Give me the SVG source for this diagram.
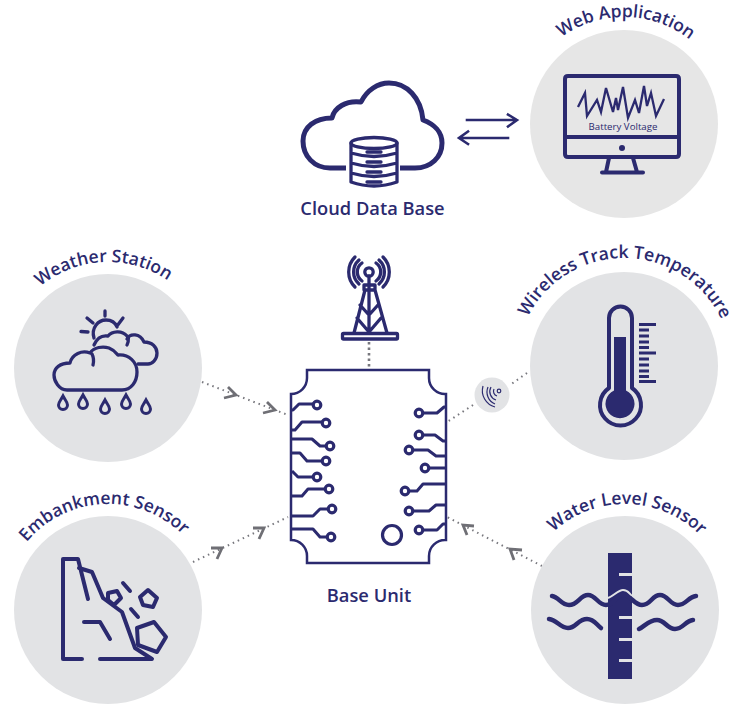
<svg xmlns="http://www.w3.org/2000/svg" xmlns:xlink="http://www.w3.org/1999/xlink" width="740" height="713" viewBox="0 0 740 713">
<style>
.bg{fill:#e2e3e5}
.s{fill:none;stroke:#2b2a6f;stroke-width:4;stroke-linecap:round;stroke-linejoin:round}
.t3{stroke-width:3.300}
.f{fill:#2b2a6f}
.lbl{font-family:"Open Sans","Liberation Sans",sans-serif;font-weight:600;font-size:18.300px;fill:#2b2a6f}
.cl{font-size:17.500px;text-anchor:middle}
.dots{fill:none;stroke:#77777d;stroke-width:2;stroke-dasharray:1.5 4}
.chev{fill:none;stroke:#6f6f75;stroke-width:2.800}
.tr{fill:none;stroke:#2b2a6f;stroke-width:3;stroke-linejoin:round}
.pad{fill:none;stroke:#2b2a6f;stroke-width:3.200}
</style>
<defs>
<path id="a1" d="M517 124A107 107 0 0 1 731 124"/>
<path id="a2" d="M2 368A106 106 0 0 1 214 368"/>
<path id="a3" d="M516 366A108 108 0 0 1 732 366"/>
<path id="a4" d="M2 610A106 106 0 0 1 214 610"/>
<path id="a5" d="M519 610A106 106 0 0 1 731 610"/>
<path id="drop" d="M0-7C-2-3-4.500-1-4.500 2A4.500 4.500 0 0 0 4.500 2C4.500-1 2-3 0-7Z" fill="none" stroke="#2b2a6f" stroke-width="3"/>
</defs>

<g id="connectors">
<path class="dots" style="stroke-width:2.600;stroke-dasharray:2.500 3" d="M369 342V368"/>
<path class="dots" d="M202 382L288 415"/>
<path class="dots" d="M193 562L288 517"/>
<path class="dots" d="M542 566L447 517"/>
<path class="dots" d="M527 373L510 385M473 405L447 422"/>
<path class="chev" d="M228 387L236 395L224 398M267 402L275 410L263 413"/>
<path class="chev" d="M211 548L222 548L217 559M253 528L264 528L259 539"/>
<path class="chev" d="M474 526L463 525L467 535M522 550L510 549L514 560"/>
<g fill="none" stroke="#2b2a6f" stroke-width="2.600" stroke-linecap="square">
<path d="M467 120H516M508 114.500L517 120L508 126.500"/>
<path d="M508 138H460M468 131.500L459 138L468 144"/>
</g>
</g>

<g id="cloud-data-base">
<path class="s" style="stroke-width:5;stroke-linecap:butt" d="M346 168H330C314 168 303 156 303 141C303 127 315 118 332 118C334 108 346 100 361 102C367 90 378 83 389 83C407 83 421 98 423 120C434 124 442 132 442 143C442 157 431 168 415 168H400"/>
<g class="s t3">
<ellipse cx="374" cy="143" rx="23" ry="5.500"/>
<path d="M351 143V182Q374 190 397 182V143M351 153Q374 160 397 153M351 163Q374 170 397 163M351 173Q374 180 397 173"/>
<path d="M367 152H381M367 162H381M367 172H381M367 182H381"/>
</g>
<text class="lbl" x="372.500" y="215" text-anchor="middle">Cloud Data Base</text>
</g>

<g id="web-application">
<circle fill="#e6e6e6" cx="624" cy="124" r="94"/>
<text class="lbl cl"><textPath href="#a1" xlink:href="#a1" startOffset="50.600%">Web Application</textPath></text>
<path class="s" d="M568 76H676Q679 76 679 79V154Q679 157 676 157H568Q565 157 565 154V79Q565 76 568 76ZM565 137H679M609 158L606 172M633 158L637 172M602 172.500H643"/>
<circle class="f" cx="622" cy="148" r="3"/>
<polyline fill="none" stroke="#2b2a6f" stroke-width="2.300" points="578,107 585,93 587,116 597,100 601,112 606,88 613,112 616,98 618,110 623,87 628,118 635,100 639,113 644,86 647,106 651,93 656,116 664,99"/>
<text x="623" y="130" text-anchor="middle" font-family="'Open Sans','Liberation Sans',sans-serif" font-size="9.700" fill="#2b2a6f">Battery Voltage</text>
</g>

<g id="weather-station">
<circle class="bg" cx="108" cy="368" r="94"/>
<text class="lbl cl"><textPath href="#a2" xlink:href="#a2" startOffset="48.500%">Weather Station</textPath></text>
<g class="s t3">
<path d="M94 338C91 328 98 320 106 320C111 320 115 322 117 327M105 311V316M87 318L93 323M123 318L117 326M81 331.500L88 332"/>
<path d="M94 345C97 338 102 335 108 336C112 331 122 330 127 336C129 337 129 340 127 345M127 339C130 333 140 333 144 342C152 342 157 347 157 353C157 360 152 364 148 364H138"/>
<path d="M67 390C59 390 54 381 54 375C54 368 60 363 70 363C72 354 82 350 90 353C94 347 103 346 109 348C114 350 116 353 118 355C129 354 137 362 137 372C137 382 131 390 122 390ZM92 354C94 358 94 361 93 365"/>
</g>
<use href="#drop" xlink:href="#drop" x="63" y="403"/>
<use href="#drop" xlink:href="#drop" x="83" y="402"/>
<use href="#drop" xlink:href="#drop" x="105" y="407"/>
<use href="#drop" xlink:href="#drop" x="126" y="402"/>
<use href="#drop" xlink:href="#drop" x="146" y="407"/>
</g>

<g id="embankment-sensor">
<circle class="bg" cx="108" cy="610" r="94"/>
<text class="lbl cl"><textPath href="#a4" xlink:href="#a4" startOffset="48.500%">Embankment Sensor</textPath></text>
<g class="s">
<path d="M82 659H63V559H78L88 599M79 568L92 572L103 598L122 612L135 648L152 659H100"/>
<path d="M84 622H100L110 639M123 583L130 591M131 609L138 617"/>
<path d="M108 593L117 591L121 598L114 605L108 600Z"/>
<path d="M148 590L157 598L153 607L143 605L140 597Z"/>
<path d="M154 622L166 637L157 652L138 645L137 628Z"/>
</g>
</g>

<g id="wireless-track-temperature">
<circle class="bg" cx="624" cy="366" r="94"/>
<text class="lbl cl" style="font-size:17.700px"><textPath href="#a3" xlink:href="#a3" startOffset="50.400%">Wireless Track Temperature</textPath></text>
<path class="s" d="M609 388V318A11.500 11.500 0 0 1 632 318V388A20.500 20.500 0 1 1 609 388Z"/>
<path class="f" d="M614 337H626V390.500A14.500 14.500 0 1 1 614 390.500Z"/>
<path fill="none" stroke="#2b2a6f" stroke-width="3" d="M639 324.500H656M639 330H649M639 336H649M639 342H649M639 347.500H649M639 353H656M639 359H649M639 365H649M639 371H649M639 376.500H649M639 381.500H656"/>
</g>

<g id="wireless-icon">
<circle class="bg" cx="492" cy="395" r="17.500"/>
<circle cx="499" cy="391" r="1.800" fill="none" stroke="#2b2a6f" stroke-width="1.200"/>
<path fill="none" stroke="#2b2a6f" stroke-width="1.200" d="M494 389A5 5 0 0 0 497 396M491 387A9 9 0 0 0 496 400M488 387A13 13 0 0 0 495 404M483 386A17 17 0 0 0 495 407"/>
</g>

<g id="water-level-sensor">
<circle class="bg" cx="625" cy="610" r="94"/>
<text class="lbl cl"><textPath href="#a5" xlink:href="#a5" startOffset="50.700%">Water Level Sensor</textPath></text>
<rect class="f" x="608" y="553" width="24" height="126"/>
<path fill="#e2e3e5" d="M619 573H632V576H619ZM619 616H632V619H619ZM619 638H632V641H619ZM619 659H632V662H619Z"/>
<path fill="none" stroke="#e2e3e5" stroke-width="2" d="M608 598C614 596 618 590 623 590C628 590 628 592 632 596"/>
<g fill="none" stroke="#2b2a6f" stroke-width="4.500" stroke-linecap="round">
<path d="M552 596C559 597 561 605 569 605C578 605 580 595 588 595C596 595 598 605 606 605C614 605 616 595 623 595C631 595 634 605 642 605C651 605 652 595 660 595C668 595 670 605 678 605C686 605 688 597 696 596"/>
<path d="M549 619C557 620 560 628 568 628C576 628 578 619 587 619C594 619 596 624 601 628"/>
<path d="M639 629C645 626 649 620 657 620C665 620 667 629 675 629C683 629 685 621 693 620"/>
</g>
</g>

<g id="tower">
<g class="s t3">
<circle cx="369" cy="272" r="4.200"/>
<path d="M369 276V285M364 285H375V290H364ZM369 285V290M365 290L354 333M375 290L387 333M369 290V333M360 305L369 315L378 305M357 318L369 332L381 318"/>
<rect x="342.500" y="333.500" width="55" height="5.500" rx="1"/>
<path d="M362 263A11 11 0 0 0 362 281M376 263A11 11 0 0 1 376 281M359 260A16 16 0 0 0 359 284M379 260A16 16 0 0 1 379 284M355 257A21 21 0 0 0 355 287M383 257A21 21 0 0 1 383 287"/>
</g>
</g>

<g id="base-unit">
<path fill="none" stroke="#2b2a6f" stroke-width="2.500" d="M307 370H429V378A16 16 0 0 0 446 394V540A16 16 0 0 0 429 556V563H307V556A16 16 0 0 0 291 540V394A16 16 0 0 0 307 378Z"/>
<path class="tr" d="M291 410H293L299 404H313M291 430H295L302 422H322M291 439H312L320 446H326M291 453H300L307 461H322M292 471L298 477H313M291 496H302L308 489H325M291 516H313L320 509H328M291 529H313L320 537H327"/>
<path class="tr" d="M446 407H444L437 413H423M446 441H443L435 435H423M446 456H436L428 450H413M445 468H429M446 484H423L417 491H409M446 505H436L429 511H413M446 524H443L437 530H423"/>
<g class="pad">
<circle cx="317" cy="405" r="3.800"/><circle cx="326" cy="423" r="3.800"/><circle cx="330" cy="446" r="3.800"/><circle cx="326" cy="461" r="3.800"/><circle cx="317" cy="477" r="3.800"/><circle cx="329" cy="489" r="3.800"/><circle cx="332" cy="509" r="3.800"/><circle cx="331" cy="537" r="3.800"/>
<circle cx="419" cy="413" r="3.800"/><circle cx="419" cy="435" r="3.800"/><circle cx="409" cy="450" r="3.800"/><circle cx="425" cy="468" r="3.800"/><circle cx="405" cy="491" r="3.800"/><circle cx="409" cy="511" r="3.800"/><circle cx="419" cy="530" r="3.800"/>
<circle cx="392" cy="535" r="9.500"/>
</g>
<text class="lbl" x="369" y="602" text-anchor="middle">Base Unit</text>
</g>
</svg>
